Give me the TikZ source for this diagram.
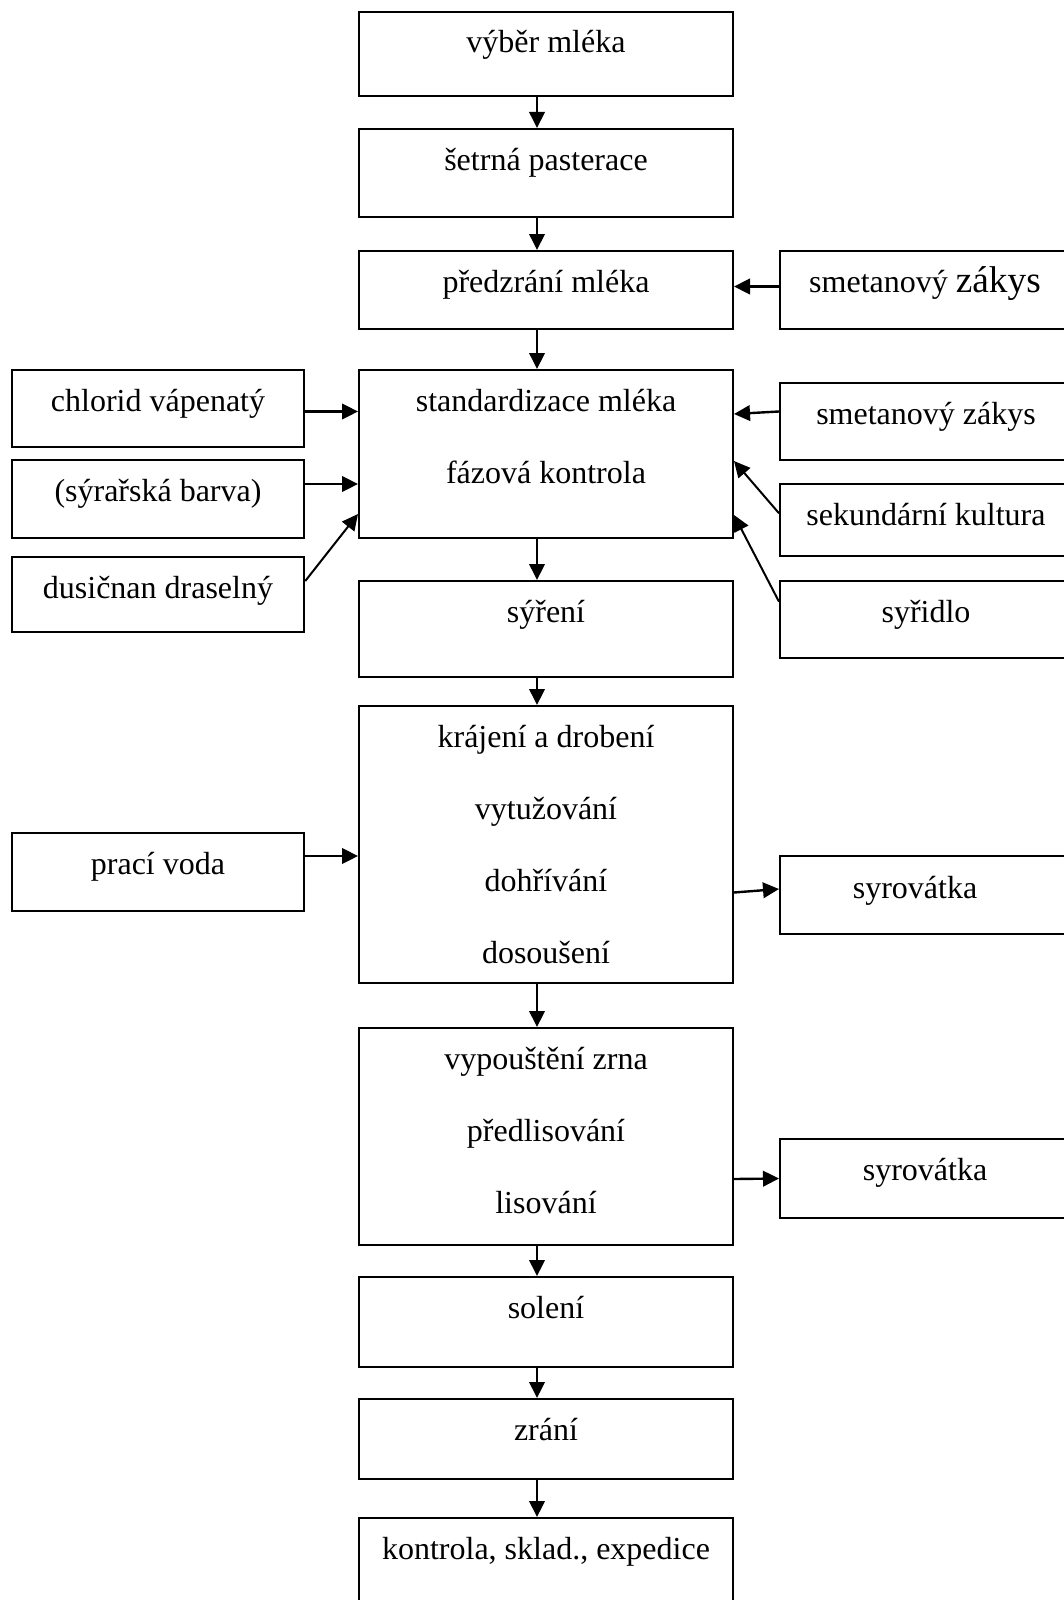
\documentclass[tikz,border=0pt]{standalone}
\usepackage{fontspec}
\setmainfont{Liberation Serif}
\usetikzlibrary{arrows.meta}
\begin{document}
\begin{tikzpicture}[x=1pt,y=-1pt,
  box/.style={draw, line width=2pt, rectangle, inner sep=0pt},
  cbox/.style={box, minimum width=374pt},
  lbox/.style={box, minimum width=292.5pt},
  rbox/.style={box, minimum width=292pt},
  lbl/.style={anchor=base, inner sep=0pt, font=\fontsize{32}{38}\selectfont},
  arr/.style={line width=2pt, -{Triangle[length=16pt, width=15.5pt]}},
  harr/.style={arr, line width=2.4pt}
]
\useasboundingbox (0,0) rectangle (1064,1600);
\clip (0,0) rectangle (1064,1600);
% centre column
\node[cbox, minimum height=84pt]  (vyber)  at (546,54) {};
\node[cbox, minimum height=88pt]  (setrna) at (546,173) {};
\node[cbox, minimum height=78pt]  (predz)  at (546,290) {};
\node[cbox, minimum height=168pt] (std)    at (546,454) {};
\node[cbox, minimum height=96pt]  (syreni) at (546,629) {};
\node[cbox, minimum height=277pt] (kraj)   at (546,844.5) {};
\node[cbox, minimum height=217pt] (vypou)  at (546,1136.5) {};
\node[cbox, minimum height=90pt]  (soleni) at (546,1322) {};
\node[cbox, minimum height=80pt]  (zrani)  at (546,1439) {};
\node[cbox, minimum height=102pt] (kontr)  at (546,1569) {};
% left column
\node[lbox, minimum height=77pt] (chlor) at (158,408.5) {};
\node[lbox, minimum height=78pt] (barva) at (158,499) {};
\node[lbox, minimum height=75pt] (dusic) at (158,594.5) {};
\node[lbox, minimum height=78pt] (praci) at (158,872) {};
% right column
\node[rbox, minimum height=78pt] (smet1) at (926,290) {};
\node[rbox, minimum height=77pt] (smet2) at (926,421.5) {};
\node[rbox, minimum height=72pt] (sekun) at (926,520) {};
\node[rbox, minimum height=77pt] (syrid) at (926,619.5) {};
\node[rbox, minimum height=78pt] (syr1)  at (926,895) {};
\node[rbox, minimum height=79pt] (syr2)  at (926,1178.5) {};
% texts
\node[lbl] (t1) at (546,53) {výběr mléka};
\node[lbl] (t2) at (546,170) {šetrná pasterace};
\node[lbl] (t3) at (546,292) {předzrání mléka};
\node[lbl] (t4a) at (546,411) {standardizace mléka};
\node[lbl] (t4b) at (546,483) {fázová kontrola};
\node[lbl] (t5) at (546,622) {sýření};
\node[lbl] (t6a) at (546,747) {krájení a drobení};
\node[lbl] (t6b) at (546,819) {vytužování};
\node[lbl] (t6c) at (546,891) {dohřívání};
\node[lbl] (t6d) at (546,963) {dosoušení};
\node[lbl] (t7a) at (546,1069) {vypouštění zrna};
\node[lbl] (t7b) at (546,1141) {předlisování};
\node[lbl] (t7c) at (546,1213) {lisování};
\node[lbl] (t8) at (546,1318) {solení};
\node[lbl] (t9) at (546,1440) {zrání};
\node[lbl] (t10) at (546,1559) {kontrola, sklad., expedice};
\node[lbl] (l1) at (158,411) {chlorid vápenatý};
\node[lbl] (l2) at (158,501) {(sýrařská barva)};
\node[lbl] (l3) at (158,598) {dusičnan draselný};
\node[lbl] (l4) at (158,874) {prací voda};
\node[lbl] (r1) at (925,292) {smetanový {\fontsize{37.3}{40}\selectfont zákys}};
\node[lbl] (r2) at (926,424) {smetanový zákys};
\node[lbl] (r3) at (926,525) {sekundární kultura};
\node[lbl] (r4) at (926,622) {syřidlo};
\node[lbl] (r5) at (915,898) {syrovátka};
\node[lbl] (r6) at (925,1180) {syrovátka};
% vertical arrows
\foreach \a/\b in {vyber/setrna, setrna/predz, predz/std, std/syreni, syreni/kraj, kraj/vypou, vypou/soleni, soleni/zrani, zrani/kontr}
  \draw[arr] ([xshift=-9pt]\a.south) -- ([xshift=-9pt]\b.north);
% side arrows
\draw[harr] ([yshift=3.5pt]smet1.west) -- ([yshift=3.5pt]smet1.west -| predz.east);
\draw[harr] ([yshift=-3pt]chlor.east) -- ([yshift=-3pt]chlor.east -| std.west);
\draw[harr] ([yshift=15pt]barva.east) -- ([yshift=15pt]barva.east -| std.west);
\draw[arr] ([yshift=13.5pt]dusic.east) -- ([yshift=-60pt]std.west);
\draw[harr] ([yshift=10pt]smet2.west) -- ([yshift=40pt]std.east);
\draw[arr] ([yshift=6.7pt]sekun.west) -- ([yshift=-7pt]std.east);
\draw[arr] ([yshift=17.8pt]syrid.west) -- ([yshift=-61pt]std.east);
\draw[harr] ([yshift=16pt]praci.east) -- ([yshift=16pt]praci.east -| kraj.west);
\draw[harr] ([yshift=-48pt]kraj.east) -- ([yshift=6pt]syr1.west);
\draw[harr] ([yshift=-42.5pt]vypou.east) -- ([yshift=0pt]syr2.west);
\end{tikzpicture}
\end{document}
